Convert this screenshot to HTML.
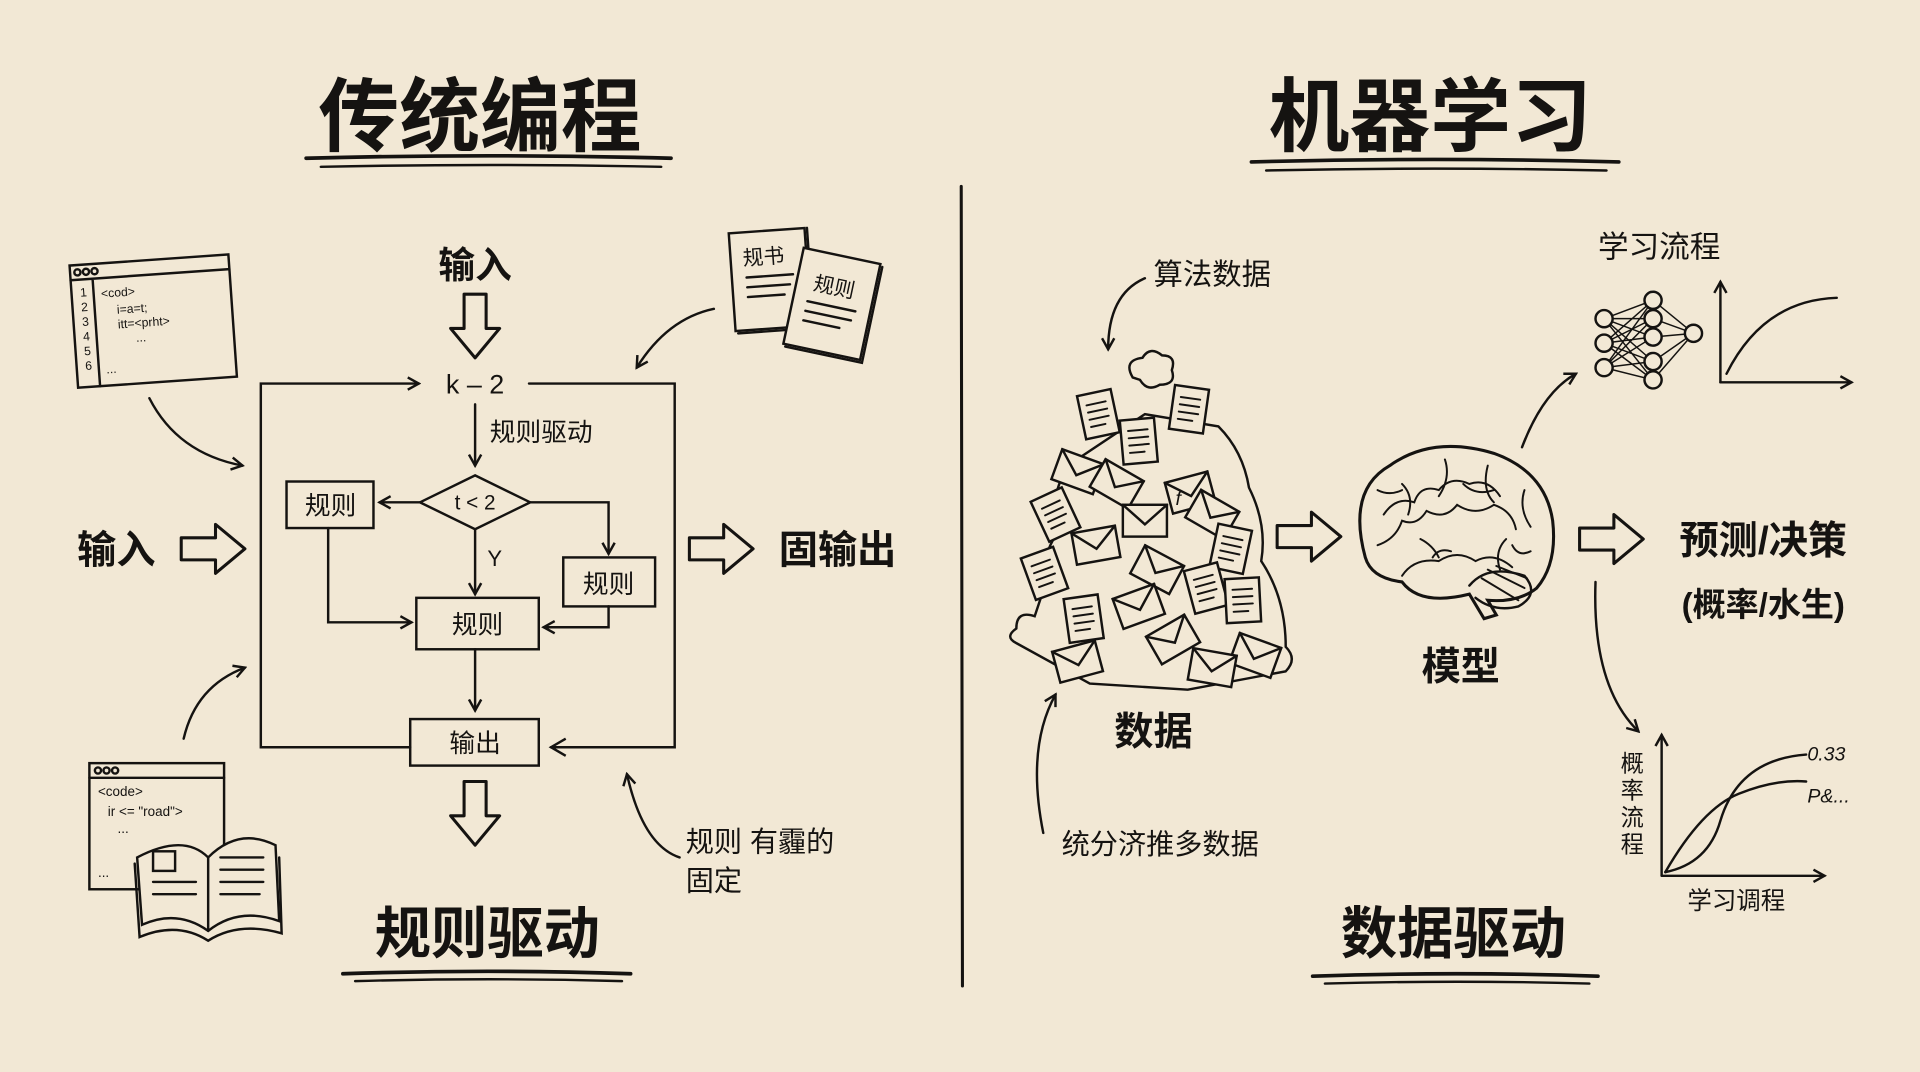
<!DOCTYPE html>
<html><head><meta charset="utf-8"><style>
html,body{margin:0;padding:0;background:#f2e8d5;}
svg{display:block}
text{font-family:"Liberation Sans","Noto Sans CJK SC",sans-serif;fill:#151311}
.b{font-weight:bold}
</style></head><body>
<svg width="1920" height="1072" viewBox="0 0 1568 875" xmlns="http://www.w3.org/2000/svg">
<defs>
<marker id="ah" viewBox="0 0 12 12" refX="10" refY="6" markerWidth="12" markerHeight="12" markerUnits="userSpaceOnUse" orient="auto"><path d="M1,1 L10,6 L1,11" fill="none" stroke="#151311" stroke-width="2"/></marker>
<marker id="ah2" viewBox="0 0 16 16" refX="13" refY="8" markerWidth="16" markerHeight="16" markerUnits="userSpaceOnUse" orient="auto"><path d="M1,1 L13,8 L1,15" fill="none" stroke="#151311" stroke-width="2"/></marker>
<g id="hr"><path d="M0,-9 H28 V-20 L52,0 L28,20 V9 H0 Z" fill="none" stroke="#151311" stroke-width="2.5" stroke-linejoin="round"/></g>
<g id="hd"><path d="M-9,0 V28 H-20 L0,52 L20,28 H9 V0 Z" fill="none" stroke="#151311" stroke-width="2.5" stroke-linejoin="round"/></g>
<g id="doc"><rect x="-14" y="-18" width="28" height="36" fill="#f2e8d5" stroke="#151311" stroke-width="2"/><path d="M-8,-9H8M-8,-3H8M-8,3H8M-8,9H4" stroke="#151311" stroke-width="1.6"/></g>
<g id="env"><rect x="-18" y="-13" width="36" height="26" fill="#f2e8d5" stroke="#151311" stroke-width="2"/><path d="M-18,-13 L0,3 L18,-13" fill="none" stroke="#151311" stroke-width="2"/></g>
</defs>
<rect width="1568" height="875" fill="#f2e8d5"/>
<g stroke="#151311" fill="none" stroke-linecap="round">
<path d="M250,129 Q400,125 548,129" stroke-width="3"/><path d="M262,136 Q400,133 540,136" stroke-width="2"/>
<path d="M1022,132 Q1170,128 1322,132" stroke-width="3"/><path d="M1034,139 Q1170,136 1312,139" stroke-width="2"/>
<path d="M280,795 Q400,791 515,795" stroke-width="3"/><path d="M290,801 Q400,798 508,801" stroke-width="2"/>
<path d="M1072,797 Q1190,793 1305,797" stroke-width="3"/><path d="M1082,803 Q1190,800 1298,803" stroke-width="2"/>
<path d="M785,152 L786,805" stroke-width="2.5"/>
<g stroke-width="2">
<path d="M335,610 H213 V313 H342" marker-end="url(#ah)"/>
<path d="M432,313 H551 V610 H450" marker-end="url(#ah2)"/>
<path d="M388,330 V380" marker-end="url(#ah)"/>
<path d="M388,388 L433,410 L388,432 L343,410 Z"/>
<path d="M343,410 H310" marker-end="url(#ah)"/>
<path d="M433,410 H497 V452" marker-end="url(#ah)"/>
<path d="M388,432 V485" marker-end="url(#ah)"/>
<rect x="234" y="393" width="71" height="38"/>
<rect x="460" y="455" width="75" height="40"/>
<rect x="340" y="488" width="100" height="42"/>
<path d="M268,431 V508 H336" marker-end="url(#ah)"/>
<path d="M497,495 V512 H444" marker-end="url(#ah)"/>
<path d="M388,530 V580" marker-end="url(#ah)"/>
<rect x="335" y="587" width="105" height="38"/>
</g>
<use href="#hd" x="388" y="240"/>
<use href="#hd" x="388" y="638"/>
<use href="#hr" x="148" y="448"/>
<use href="#hr" x="563" y="448"/>
<use href="#hr" x="1043" y="438"/>
<use href="#hr" x="1290" y="440"/>
<g stroke-width="2">
<path d="M122,325 Q145,370 198,380" marker-end="url(#ah)"/>
<path d="M150,603 Q160,560 200,545" marker-end="url(#ah)"/>
<path d="M583,252 Q545,260 520,300" marker-end="url(#ah)"/>
<path d="M555,700 Q525,690 512,632" marker-end="url(#ah)"/>
<path d="M935,227 Q905,240 905,285" marker-end="url(#ah)"/>
<path d="M852,680 Q838,610 862,567" marker-end="url(#ah)"/>
<path d="M1243,365 Q1260,320 1287,305" marker-end="url(#ah)"/>
<path d="M1303,475 Q1300,560 1338,597" marker-end="url(#ah)"/>
</g>
<g stroke-width="2" transform="rotate(-4 125 260)">
<rect x="60" y="212" width="130" height="100"/><path d="M60,224 H190 M78,224 V312"/>
<circle cx="66" cy="218" r="2.5"/><circle cx="73" cy="218" r="2.5"/><circle cx="80" cy="218" r="2.5"/>
</g>
<g stroke-width="2"><rect x="73" y="623" width="110" height="103"/><path d="M73,635 H183"/>
<circle cx="80" cy="629" r="2.5"/><circle cx="87" cy="629" r="2.5"/><circle cx="94" cy="629" r="2.5"/>
<path d="M112,700 Q150,680 170,700 Q195,675 225,690 L228,752 Q195,740 170,760 Q145,742 116,755 Z" fill="#f2e8d5"/>
<path d="M170,700 V760"/><rect x="125" y="695" width="18" height="16"/><path d="M180,700H215M180,710H215M180,720H215M180,730H212M125,720H160M125,730H160"/>
<path d="M110,705 L114,765 Q145,752 170,768 Q195,752 230,762 L228,700" />
</g>
<g stroke-width="2">
<g transform="rotate(-4 630 230)"><rect x="598" y="188" width="62" height="80" fill="#f2e8d5"/><path d="M600,270 H662 V188"/><path d="M610,225H648M610,233H645M610,241H640"/></g>
<g transform="rotate(12 680 245)"><rect x="648" y="208" width="64" height="80" fill="#f2e8d5"/><path d="M650,290 H714 V210"/><path d="M660,250H700M660,258H698M660,266H690"/></g>
</g>
<g stroke-width="2">
<path d="M925,308 q-8,-14 8,-16 q6,-10 16,-2 q12,0 8,12 q4,12 -10,12 q-10,6 -16,-4 z"/>
<path d="M830,525 q-10,-5 0,-12 q0,-15 15,-10 l10,-30 q-5,-20 10,-40 q-10,-30 10,-55 l60,-40 l60,10 q20,20 25,50 q15,30 10,60 q20,30 20,70 q10,10 0,20 l-80,15 l-80,-5 z" fill="#f2e8d5"/>
</g>
<use href="#doc" x="897" y="338" transform="rotate(-12 897 338)"/>
<use href="#doc" x="971" y="334" transform="rotate(8 971 334)"/>
<use href="#doc" x="930" y="360" transform="rotate(-5 930 360)"/>
<use href="#env" x="880" y="385" transform="rotate(20 880 385)"/>
<use href="#env" x="912" y="395" transform="rotate(30 912 395)"/>
<use href="#env" x="972" y="402" transform="rotate(-15 972 402)"/>
<use href="#env" x="935" y="425"/>
<use href="#env" x="990" y="420" transform="rotate(30 990 420)"/>
<use href="#doc" x="862" y="420" transform="rotate(-25 862 420)"/>
<use href="#env" x="895" y="445" transform="rotate(-10 895 445)"/>
<use href="#doc" x="1005" y="448" transform="rotate(12 1005 448)"/>
<use href="#doc" x="853" y="468" transform="rotate(-20 853 468)"/>
<use href="#env" x="945" y="465" transform="rotate(28 945 465)"/>
<use href="#doc" x="985" y="480" transform="rotate(-15 985 480)"/>
<use href="#doc" x="1015" y="490" transform="rotate(-3 1015 490)"/>
<use href="#doc" x="885" y="505" transform="rotate(-8 885 505)"/>
<use href="#env" x="930" y="495" transform="rotate(-20 930 495)"/>
<use href="#env" x="958" y="522" transform="rotate(-30 958 522)"/>
<use href="#env" x="1025" y="535" transform="rotate(20 1025 535)"/>
<use href="#env" x="880" y="540" transform="rotate(-15 880 540)"/>
<use href="#env" x="990" y="545" transform="rotate(10 990 545)"/>
<g stroke-width="2.5">
<path d="M1115,455 Q1100,400 1135,380 Q1170,355 1220,370 Q1262,385 1268,425 Q1272,460 1255,480 Q1240,492 1215,490 L1222,502 L1212,505 L1200,485 Q1160,495 1145,475 Q1120,472 1115,455 Z" fill="#f2e8d5"/>
<path d="M1200,478 Q1215,460 1245,470 Q1258,485 1240,495 Q1220,500 1205,488" stroke-width="2"/>
</g>
<g stroke-width="1.6">
<path d="M1130,420 q10,-15 25,-10 q5,-15 20,-10 q10,-12 25,-5 q15,-5 25,10"/>
<path d="M1125,445 q15,-5 20,-20 q12,5 20,-8 q15,8 25,-5 q15,10 30,0 q15,5 18,20"/>
<path d="M1145,470 q10,-15 30,-12 q15,-10 30,0 q15,-8 30,5"/>
<path d="M1145,395 q10,10 5,25 M1180,375 q5,15 -5,30 M1215,380 q-5,20 5,30 M1245,400 q-5,15 5,30 M1160,440 q10,5 15,15 M1230,440 q-10,10 -5,25"/>
<path d="M1125,400 q10,5 20,0 M1195,395 q10,10 25,5 M1250,450 q-10,5 -15,-5 M1170,455 q5,-8 15,-5"/>
<path d="M1210,472 l30,18 M1215,465 l30,15 M1222,462 l25,10"/>
</g>
<g stroke-width="1.2">
<path d="M1310,260 L1350,245 M1310,260 L1350,260 M1310,260 L1350,275 M1310,260 L1350,295 M1310,260 L1350,310 M1310,280 L1350,245 M1310,280 L1350,260 M1310,280 L1350,275 M1310,280 L1350,295 M1310,280 L1350,310 M1310,300 L1350,245 M1310,300 L1350,260 M1310,300 L1350,275 M1310,300 L1350,295 M1310,300 L1350,310 M1350,245 L1383,272 M1350,260 L1383,272 M1350,275 L1383,272 M1350,295 L1383,272 M1350,310 L1383,272"/>
</g>
<g stroke-width="2" fill="#f2e8d5">
<circle cx="1310" cy="260" r="7"/><circle cx="1310" cy="280" r="7"/><circle cx="1310" cy="300" r="7"/>
<circle cx="1350" cy="245" r="7"/><circle cx="1350" cy="260" r="7"/><circle cx="1350" cy="275" r="7"/><circle cx="1350" cy="295" r="7"/><circle cx="1350" cy="310" r="7"/>
<circle cx="1383" cy="272" r="7"/>
</g>
<g stroke-width="2">
<path d="M1405,312 V230" marker-end="url(#ah)"/><path d="M1405,312 H1512" marker-end="url(#ah)"/>
<path d="M1410,305 Q1440,245 1500,243"/>
<path d="M1357,715 V600" marker-end="url(#ah)"/><path d="M1357,715 H1490" marker-end="url(#ah)"/>
<path d="M1360,712 Q1390,660 1420,648 Q1450,636 1475,638"/>
<path d="M1360,712 Q1395,705 1405,670 Q1420,620 1475,616"/>
</g>
</g>
<g text-anchor="middle">
<text x="392" y="118" font-size="66" class="b">传统编程</text>
<text x="1168" y="118" font-size="66" class="b">机器学习</text>
<text x="388" y="227" font-size="30" class="b">输入</text>
<text x="388" y="321" font-size="22">k – 2</text>
<text x="388" y="416" font-size="17">t &lt; 2</text>
<text x="270" y="420" font-size="21">规则</text>
<text x="497" y="484" font-size="21">规则</text>
<text x="390" y="517" font-size="21">规则</text>
<text x="388" y="614" font-size="21">输出</text>
<text x="398" y="778" font-size="46" class="b">规则驱动</text>
<text x="1187" y="778" font-size="46" class="b">数据驱动</text>
<text x="95" y="460" font-size="32" class="b">输入</text>
<text x="684" y="460" font-size="32" class="b">固输出</text>
<text x="942" y="608" font-size="32" class="b">数据</text>
<text x="1193" y="555" font-size="32" class="b">模型</text>
<text x="1440" y="452" font-size="32" class="b">预测/决策</text>
<text x="1440" y="503" font-size="27" class="b">(概率/水生)</text>
<text x="1355" y="210" font-size="25">学习流程</text>
<text x="1418" y="742" font-size="20">学习调程</text>
</g>
<text x="400" y="360" font-size="21">规则驱动</text>
<text x="398" y="462" font-size="18">Y</text>
<text x="560" y="695" font-size="23">规则 有霾的</text>
<text x="560" y="727" font-size="23">固定</text>
<text x="942" y="232" font-size="24">算法数据</text>
<text x="867" y="697" font-size="23">统分济推多数据</text>
<text x="1476" y="621" font-size="16" font-style="italic">0.33</text>
<text x="1476" y="655" font-size="16" font-style="italic">P&amp;...</text>
<g font-size="19" text-anchor="middle">
<text x="1333" y="630">概</text><text x="1333" y="652">率</text><text x="1333" y="674">流</text><text x="1333" y="696">程</text>
</g>
<g font-size="10" font-family="Liberation Mono,monospace" transform="rotate(-4 125 260)">
<text x="67" y="238">1</text><text x="67" y="250">2</text><text x="67" y="262">3</text><text x="67" y="274">4</text><text x="67" y="286">5</text><text x="67" y="298">6</text>
<text x="84" y="240">&lt;cod&gt;</text><text x="96" y="254">i=a=t;</text><text x="96" y="266">itt=&lt;prht&gt;</text><text x="110" y="278">...</text><text x="84" y="302">...</text>
</g>
<g font-size="11" font-family="Liberation Mono,monospace">
<text x="80" y="650">&lt;code&gt;</text><text x="88" y="666">ir &lt;= "road"&gt;</text><text x="96" y="680">...</text><text x="80" y="716">...</text>
</g>
<text x="608" y="215" font-size="17" transform="rotate(-4 630 230)">规书</text>
<text x="662" y="240" font-size="17" transform="rotate(12 680 245)">规则</text>
<text x="960" y="412" font-size="16" font-style="italic">f</text>
</svg>
</body></html>
